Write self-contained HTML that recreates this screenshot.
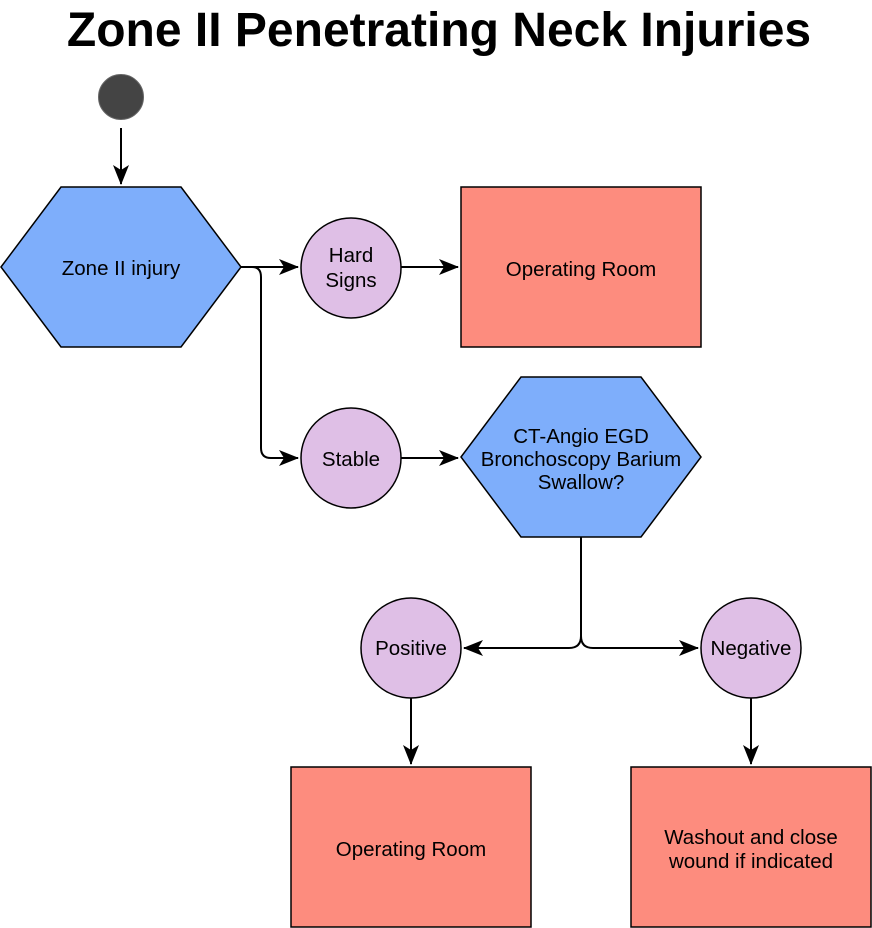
<!DOCTYPE html>
<html><head><meta charset="utf-8"><style>
html,body{margin:0;padding:0;background:#fff;}
svg{display:block;}
text{font-family:"Liberation Sans",Arial,sans-serif;fill:#000;}
</style></head><body>
<svg width="872" height="928" viewBox="0 0 872 928" xmlns="http://www.w3.org/2000/svg">
<defs>
<marker id="b" viewBox="0 0 20 20" refX="19" refY="10" markerWidth="20" markerHeight="20" markerUnits="userSpaceOnUse" orient="auto">
<path d="M0,2 L20,10 L0,18 L5,10 Z" fill="#000"/>
</marker>
</defs>
<text x="439" y="46" font-size="48" font-weight="bold" text-anchor="middle">Zone II Penetrating Neck Injuries</text>
<circle cx="121" cy="97" r="22.5" fill="#444" stroke="#666" stroke-width="1"/>
<g fill="none" stroke="#000" stroke-width="2">
<path d="M121,128 V184" marker-end="url(#b)"/>
<path d="M241,267 H298" marker-end="url(#b)"/>
<path d="M241,267 H252 Q261,267 261,277 V448 Q261,458 271,458 H298" marker-end="url(#b)"/>
<path d="M401,267 H458" marker-end="url(#b)"/>
<path d="M401,458 H458" marker-end="url(#b)"/>
<path d="M581,537 V636 Q581,648 569,648 H464" marker-end="url(#b)"/>
<path d="M581,636 Q581,648 593,648 H698" marker-end="url(#b)"/>
<path d="M411,698 V764" marker-end="url(#b)"/>
<path d="M751,698 V764" marker-end="url(#b)"/>
</g>
<g font-size="20.5" text-anchor="middle">
<polygon points="1,267 61,187 181,187 241,267 181,347 61,347" fill="#7eaefb" stroke="#000" stroke-width="1.5"/>
<text x="121" y="275">Zone II injury</text>
<circle cx="351" cy="268" r="50" fill="#dfbfe6" stroke="#000" stroke-width="1.5"/>
<text x="351" y="262">Hard</text>
<text x="351" y="287">Signs</text>
<rect x="461" y="187" width="240" height="160" fill="#fd8c7e" stroke="#000" stroke-width="1.5"/>
<text x="581" y="276">Operating Room</text>
<circle cx="351" cy="458" r="50" fill="#dfbfe6" stroke="#000" stroke-width="1.5"/>
<text x="351" y="466">Stable</text>
<polygon points="461,457 521,377 641,377 701,457 641,537 521,537" fill="#7eaefb" stroke="#000" stroke-width="1.5"/>
<text x="581" y="443">CT-Angio EGD</text>
<text x="581" y="466">Bronchoscopy Barium</text>
<text x="581" y="489">Swallow?</text>
<circle cx="411" cy="648" r="50" fill="#dfbfe6" stroke="#000" stroke-width="1.5"/>
<text x="411" y="655">Positive</text>
<circle cx="751" cy="648" r="50" fill="#dfbfe6" stroke="#000" stroke-width="1.5"/>
<text x="751" y="655">Negative</text>
<rect x="291" y="767" width="240" height="160" fill="#fd8c7e" stroke="#000" stroke-width="1.5"/>
<text x="411" y="856">Operating Room</text>
<rect x="631" y="767" width="240" height="160" fill="#fd8c7e" stroke="#000" stroke-width="1.5"/>
<text x="751" y="844">Washout and close</text>
<text x="751" y="868">wound if indicated</text>
</g>
</svg>
</body></html>
